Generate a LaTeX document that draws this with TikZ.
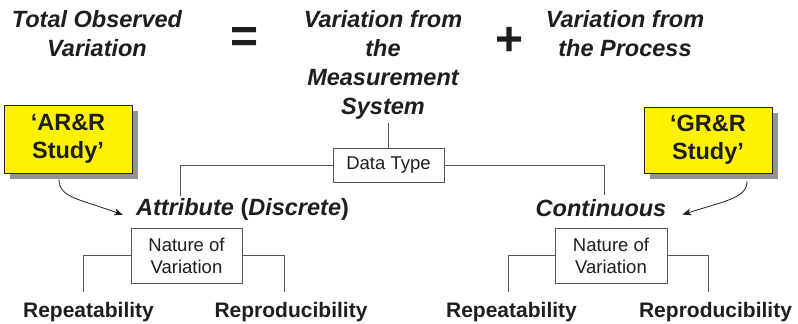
\documentclass[tikz,border=0pt]{standalone}
\usepackage{fontspec}
\setmainfont{Liberation Sans}
\usetikzlibrary{shadows,arrows.meta}
\definecolor{txt}{HTML}{1E1E1E}
\definecolor{ln}{HTML}{555555}
\definecolor{bx}{HTML}{FFF200}
\tikzset{
  big/.style={font=\fontsize{23.5}{29}\selectfont\bfseries\itshape, align=center, inner sep=0pt, text=txt},
  sym/.style={font=\fontsize{48}{48}\selectfont\bfseries, inner sep=0pt, text=txt},
  studybox/.style={draw=black!85, line width=0.8pt, fill=bx, minimum width=128pt, minimum height=68pt, align=center, inner sep=0pt,
    font=\fontsize{23.5}{28}\selectfont\bfseries, text=txt,
    drop shadow={shadow xshift=6pt, shadow yshift=-6pt, fill=black!42, opacity=1}},
  plainbox/.style={draw=ln, line width=0.8pt, fill=white, align=center, inner sep=0pt,
    font=\fontsize{18.5}{22}\selectfont, text=txt},
  leaf/.style={font=\fontsize{21}{24}\selectfont\bfseries, inner sep=0pt, anchor=base, text=txt},
  kind/.style={font=\fontsize{23.5}{28}\selectfont\bfseries, inner sep=0pt, anchor=base, text=txt},
  conn/.style={draw=ln, line width=0.9pt},
  curvearrow/.style={draw=txt, line width=0.8pt, -{Stealth[length=9pt,width=7pt]}}
}
\begin{document}
\begin{tikzpicture}[x=1pt,y=-1pt]
\useasboundingbox (0,0) rectangle (798,324);
% top equation
\node[big] (tot) at (97,34) {Total Observed\\Variation};
\node[sym] (eq) at (245,40) {=};
\node[big] (meas) at (383,65.4) {Variation from\\the\\Measurement\\System};
\node[sym] (plus) at (510,41) {+};
\node[big] (proc) at (625,34) {Variation from\\the Process};
% study boxes
\node[studybox] (arr) at (68,139) {`AR\&R\\Study'};
\node[studybox, minimum height=66pt] (grr) at (708,140) {`GR\&R\\Study'};
% data type
\node[plainbox, minimum width=111pt, minimum height=34pt] (dt) at (388.5,165) {Data Type};
% kinds
\node[kind] (attr) at (242.5,215) {\itshape Attribute \upshape(\itshape Discrete\upshape)};
\node[kind] (cont) at (601,216) {\itshape Continuous};
% nature boxes
\node[plainbox, minimum width=111pt, minimum height=55pt] (nov1) at (186.5,255.5) {Nature of\\Variation};
\node[plainbox, minimum width=112pt, minimum height=55pt] (nov2) at (611,255.5) {Nature of\\Variation};
% leaves
\node[leaf] (rep1) at (88.5,317) {Repeatability};
\node[leaf] (rpr1) at (291,317) {Reproducibility};
\node[leaf] (rep2) at (511.5,317) {Repeatability};
\node[leaf] (rpr2) at (715.5,317) {Reproducibility};
% connectors
\draw[conn] (dt.north) -- ([yshift=-3pt]dt.north |- meas.south);
\draw[conn] (dt.west) -| ([xshift=45pt,yshift=2pt]attr.north west);
\draw[conn] (dt.east) -| ([xshift=3pt,yshift=4pt]cont.north);
\draw[conn] (nov1.west) -| ([xshift=-5.5pt,yshift=10pt]rep1.north);
\draw[conn] (nov1.east) -| ([xshift=-7pt,yshift=10pt]rpr1.north);
\draw[conn] (nov2.west) -| ([xshift=-3.5pt,yshift=10pt]rep2.north);
\draw[conn] (nov2.east) -| ([xshift=-7.5pt,yshift=10pt]rpr2.north);
% study arrows
\coordinate (arrs) at ([xshift=-9pt,yshift=-6pt]arr.south);
\coordinate (grrs) at ([xshift=39pt,yshift=-8pt]grr.south);
\draw[curvearrow] (arrs) .. controls (59,198) and (80,199) .. ([xshift=-13pt,yshift=-6pt]attr.west);
\draw[curvearrow] (grrs) .. controls (747,198) and (725,201) .. ([xshift=16pt,yshift=-7pt]cont.east);
\end{tikzpicture}
\end{document}
